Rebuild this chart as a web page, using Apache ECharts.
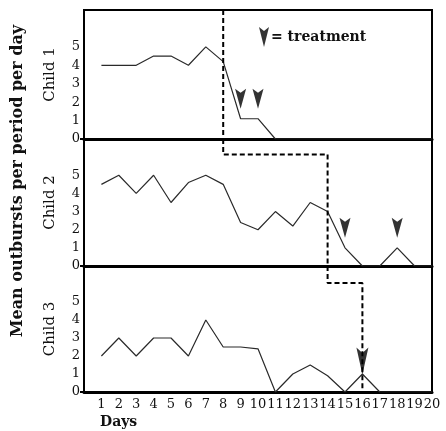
<!DOCTYPE html>
<html>
<head>
<meta charset="utf-8">
<script src="https://cdn.jsdelivr.net/npm/echarts@6/dist/echarts.min.js"></script>
<style>html,body{margin:0;padding:0;background:#fff}#c{width:446px;height:431px}</style>
</head>
<body>
<div id="c"></div>
<script>
// ---- data ----
const days = [1,2,3,4,5,6,7,8,9,10,11,12,13,14,15,16,17,18,19,20];
const dayLabels = ['1','2','3','4','5','6','7','8','9','10','11','12','13','14','15','16','17','18','19','20'];
const yTickLabels = ['0','1','2','3','4','5'];
const childNames = ['Child 1','Child 2','Child 3'];
const child1 = [4,4,4,4.5,4.5,4,5,4.2,1.1,1.1,0,0,0,0,0,0,0,0,0,0];
const child2 = [4.5,5,4,5,3.5,4.6,5,4.5,2.4,2,3,2.2,3.5,3,1,0,0,1,0,0];
const child3 = [2,3,2,3,3,2,4,2.5,2.5,2.4,0,1,1.5,0.9,0,1,0,0,0,0];
const treatmentDays1 = [9,10];
const treatmentDays2 = [15,18];
const treatmentDays3 = [16];
const phaseChangeDays = [8,14,16];  // treatment start for child 1, 2, 3

const allData = [child1, child2, child3];
const allTreat = [treatmentDays1, treatmentDays2, treatmentDays3];

const FONT = '"DejaVu Serif", serif';
const arrowPath = 'path://M0,0 L5,4 L10,0 L5,20 Z';

const grids = [
  {left:84, right:14, top:10, height:129},
  {left:84, right:14, top:139, height:127},
  {left:84, right:14, top:266, height:126}
];

const xAxes = grids.map((g,i)=>({
  type:'value', gridIndex:i, min:0, max:20, interval:1,
  axisLine:{show:true, onZero:false, lineStyle:{color:'#000', width:3}},
  axisTick:{show:false},
  splitLine:{show:false},
  axisLabel:{show:i===2, margin:6, color:'#111', fontFamily:FONT, fontSize:13,
    formatter:v=>{const k=days.indexOf(v); return k>=0?dayLabels[k]:'';}}
}));

const yAxes = grids.map((g,i)=>({
  type:'value', gridIndex:i, min:0, max:7, interval:1,
  name:childNames[i], nameLocation:'middle', nameGap:26, nameRotate:90,
  nameTextStyle:{color:'#111', fontFamily:FONT, fontSize:15},
  axisLine:{show:true, lineStyle:{color:'#000', width:2}},
  axisTick:{show:true, customValues:[0], length:4, lineStyle:{color:'#000', width:2}},
  splitLine:{show:false},
  axisLabel:{margin:4, color:'#111', fontFamily:FONT, fontSize:13,
    formatter:v=> (v<=5 && Number.isInteger(v)) ? yTickLabels[v] : ''}
}));

const series = [];
const stepLevel = [null, 6.15, 6.05];
allData.forEach((arr,i)=>{
  series.push({
    type:'line', xAxisIndex:i, yAxisIndex:i, name:childNames[i],
    data: days.map((d,k)=>[d, arr[k]]),
    symbol:'none', lineStyle:{color:'#2a2a2a', width:1.2}, z:3, animation:false
  });
  // phase change dashed line
  let pts;
  if (i===0) pts = [[phaseChangeDays[0],7],[phaseChangeDays[0],0]];
  else pts = [[phaseChangeDays[i-1],7],[phaseChangeDays[i-1],stepLevel[i]],[phaseChangeDays[i],stepLevel[i]],[phaseChangeDays[i],0]];
  series.push({
    type:'line', xAxisIndex:i, yAxisIndex:i, data:pts, symbol:'none',
    lineStyle:{color:'#000', width:2, type:[5,3]}, z:4, animation:false, silent:true
  });
  // treatment arrows
  const big = i===2;
  series.push({
    type:'scatter', name:'treatment', xAxisIndex:i, yAxisIndex:i,
    data: allTreat[i].map(d=>[d, arr[days.indexOf(d)]]),
    symbol: arrowPath, symbolSize: big?[12,27]:[11,20],
    symbolOffset: big?[0,-13]:[0,-20],
    itemStyle:{color:'#000'}, z:6, animation:false
  });
});

const option = {
  animation:false,
  backgroundColor:'#fff',
  grid: grids.map(g=>Object.assign({show:true, borderColor:'#000', borderWidth:2}, g)),
  xAxis: xAxes,
  yAxis: yAxes,
  legend:{
    left:259, top:27, padding:0, itemWidth:10, itemHeight:20, itemGap:5,
    data:[{name:'treatment', icon:arrowPath, itemStyle:{color:'#000'}}],
    formatter:'= {name}',
    textStyle:{color:'#111', fontFamily:FONT, fontSize:14, fontWeight:'bold', padding:[0,0,0,-3]}
  },
  graphic:[
    {type:'text', x:18, y:181, rotation:Math.PI/2,
     style:{text:'Mean outbursts per period per day', fill:'#111', font:'bold 16px "DejaVu Serif", serif', textAlign:'center', textVerticalAlign:'middle'}},
    {type:'text', x:100, y:422,
     style:{text:'Days', fill:'#111', font:'bold 14px "DejaVu Serif", serif', textAlign:'left', textVerticalAlign:'middle'}}
  ],
  series: series
};
echarts.init(document.getElementById('c'), null, {renderer:'canvas'}).setOption(option);
</script>
</body>
</html>
